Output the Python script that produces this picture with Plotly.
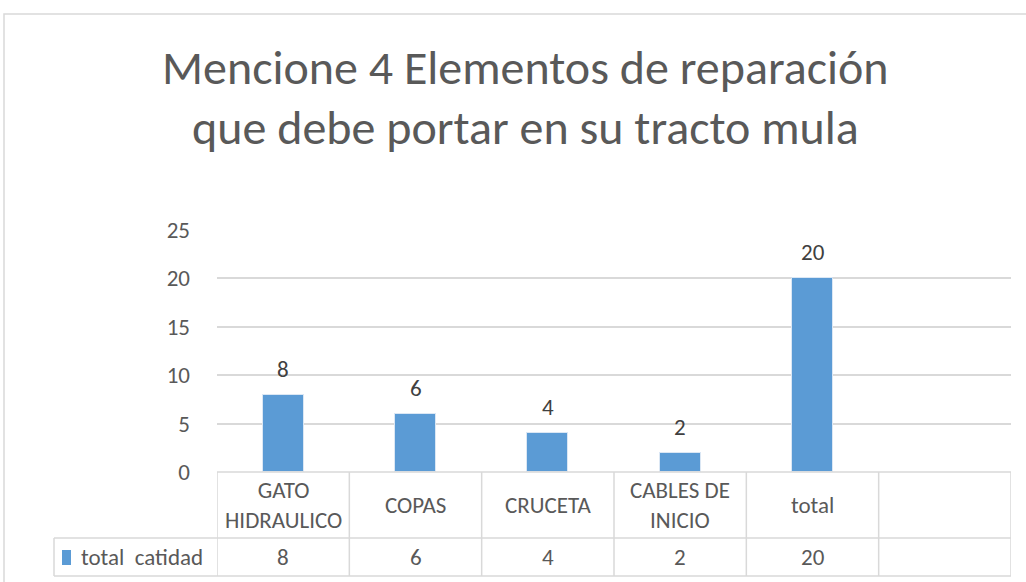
import plotly.graph_objects as go

categories = ["GATO<br>HIDRAULICO", "COPAS", "CRUCETA", "CABLES DE<br>INICIO", "total", ""]
values = [8, 6, 4, 2, 20]
series_name = "total  catidad"
y_ticks = [0, 5, 10, 15, 20, 25]
title_lines = ["Mencione 4 Elementos de reparación", "que debe portar en su tracto mula"]

W, H = 1026, 582
FONT = "Carlito, Calibri, Lato, sans-serif"
GRID = "#d9d9d9"
TXT = "#595959"
BLUE = "#5b9bd5"


def py(pix):
    # pixel row (from top) -> paper y
    return 1 - pix / H


def px(pix):
    return pix / W


x_pos = list(range(len(categories)))

fig = go.Figure()
fig.add_trace(go.Bar(
    x=x_pos[:len(values)], y=values, width=0.31,
    marker=dict(color=BLUE, line=dict(color="#dbe7f4", width=1)),
    name=series_name, showlegend=False, hoverinfo="skip",
))

fig.update_layout(
    width=W, height=H, margin=dict(l=0, r=0, t=0, b=0, autoexpand=False),
    paper_bgcolor="white", plot_bgcolor="white",
    font=dict(family=FONT, color=TXT),
    bargap=0,
    xaxis=dict(domain=[px(217), px(1011)], range=[-0.5, len(categories) - 0.5], automargin=False,
               showticklabels=False, showgrid=False, zeroline=False, showline=False),
    yaxis=dict(domain=[py(472), py(230)], range=[0, 25], tickvals=y_ticks, automargin=False,
               showgrid=True, gridcolor=GRID, gridwidth=1.5, zeroline=False, showline=False,
               tickfont=dict(family=FONT, size=23, color=TXT), ticks="", ticklabelstandoff=26),
)

shapes = []
# chart frame (runs past the right and bottom edges of the picture)
shapes.append(dict(type="rect", xref="paper", yref="paper", x0=px(4), x1=px(1060),
                   y0=py(620), y1=py(14), line=dict(color=GRID, width=1.5)))
# data table lines
table_top, row_split, table_bot = 472, 538, 576
shapes.append(dict(type="line", xref="x", yref="paper", x0=-0.5, x1=len(categories) - 0.5,
                   y0=py(table_top), y1=py(table_top), line=dict(color=GRID, width=1.5)))
for yy in (row_split, table_bot):
    shapes.append(dict(type="line", xref="paper", yref="paper", x0=px(54), x1=px(1011),
                       y0=py(yy), y1=py(yy), line=dict(color=GRID, width=1.5)))
for i in range(len(categories) + 1):
    shapes.append(dict(type="line", xref="x", yref="paper", x0=i - 0.5, x1=i - 0.5,
                       y0=py(table_top), y1=py(table_bot), line=dict(color=GRID, width=1.5)))
shapes.append(dict(type="line", xref="paper", yref="paper", x0=px(54), x1=px(54),
                   y0=py(row_split), y1=py(table_bot), line=dict(color=GRID, width=1.5)))
# legend key
shapes.append(dict(type="rect", xref="paper", yref="paper", x0=px(62), x1=px(71),
                   y0=py(565), y1=py(550), fillcolor=BLUE, line=dict(width=0)))
fig.update_layout(shapes=shapes)

annotations = []
for i, t in enumerate(title_lines):
    annotations.append(dict(text=t, xref="paper", yref="paper", x=px(525), y=py(67 + 60 * i),
                            xanchor="center", yanchor="middle", showarrow=False,
                            font=dict(family=FONT, size=48, color=TXT)))
# data labels above bars
for i, v in enumerate(values):
    annotations.append(dict(text=str(v), xref="x", yref="y", x=i, y=v, yshift=26,
                            xanchor="center", yanchor="middle", showarrow=False,
                            font=dict(family=FONT, size=23, color="#404040")))
# data table text
for i, c in enumerate(categories):
    if c:
        annotations.append(dict(text=c, xref="x", yref="paper", x=i, y=py(505),
                                xanchor="center", yanchor="middle", showarrow=False,
                                font=dict(family=FONT, size=23, color=TXT)))
for i, v in enumerate(values):
    annotations.append(dict(text=str(v), xref="x", yref="paper", x=i, y=py(557),
                            xanchor="center", yanchor="middle", showarrow=False,
                            font=dict(family=FONT, size=23, color=TXT)))
annotations.append(dict(text=series_name.replace("  ", "&nbsp; "), xref="paper", yref="paper",
                        x=px(79), y=py(557), xanchor="left", yanchor="middle", showarrow=False,
                        font=dict(family=FONT, size=23, color=TXT)))
fig.update_layout(annotations=annotations)

# page body has a default 8px margin; remove it so the figure fills the window
fig.write_html("out.html", config={"displayModeBar": False},
               post_script="document.body.style.margin='0';")
